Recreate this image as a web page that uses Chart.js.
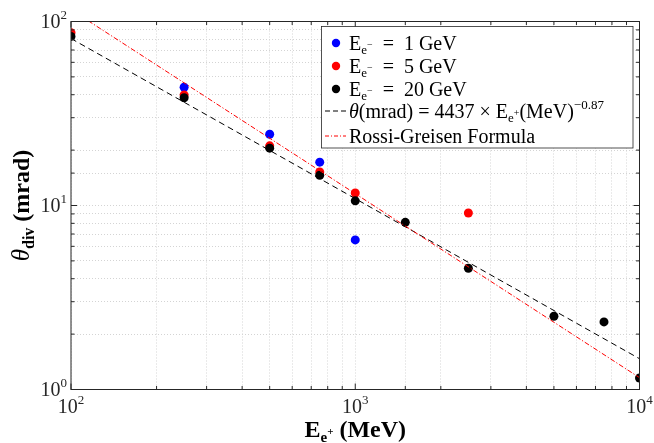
<!DOCTYPE html>
<html>
<head>
<meta charset="utf-8">
<script src="https://cdn.jsdelivr.net/npm/chart.js@4.4.0/dist/chart.umd.min.js"></script>
<style>
html, body { margin: 0; padding: 0; background: #fff; }
#wrap { width: 654px; height: 443px; }
</style>
</head>
<body>
<div id="wrap"><canvas id="divChart" width="654" height="443"></canvas></div>
<script>
// beam energies (MeV) and divergence angles (mrad)
const energy1GeV = [250, 500, 750, 1000];
const theta1GeV = [43.9, 24.4, 17.2, 6.5];
const energy5GeV = [100, 250, 500, 750, 1000, 2500];
const theta5GeV = [87, 39.9, 21.1, 15.2, 11.7, 9.1];
const energy20GeV = [100, 250, 500, 750, 1000, 1500, 2500, 5000, 7500, 10000];
const theta20GeV = [83, 38.5, 20.5, 14.6, 10.6, 8.1, 4.56, 2.5, 2.33, 1.155];

// fit line and Rossi-Greisen line (end points)
const fitEnergy = [100, 10000];
const fitTheta = [80.8, 1.47];
const rossiEnergy = [100, 10000];
const rossiTheta = [116, 1.16];

// labelled ticks (powers of ten)
const xTickValues = [100, 1000, 10000];
const xTickExps = ['2', '3', '4'];
const yTickValues = [1, 10, 100];
const yTickExps = ['0', '1', '2'];

const SERIF = '"Liberation Serif", "DejaVu Serif", serif';
const AXIS_COLOR = '#262626';

function toPoints(xs, ys) {
    return xs.map((x, i) => ({ x: x, y: ys[i] }));
}

function f(size, style) {
    return (style ? style + ' ' : '') + size + 'px ' + SERIF;
}

function richWidth(ctx, parts) {
    let w = 0;
    parts.forEach(p => { ctx.font = p.font; w += ctx.measureText(p.text).width; });
    return w;
}

function drawRich(ctx, parts, x, y, align) {
    const w = richWidth(ctx, parts);
    let cx = align === 'center' ? x - w / 2 : (align === 'right' ? x - w : x);
    ctx.textAlign = 'left';
    ctx.textBaseline = 'alphabetic';
    parts.forEach(p => {
        ctx.font = p.font;
        ctx.fillText(p.text, cx, y + (p.dy || 0));
        cx += ctx.measureText(p.text).width;
    });
}

// legend labels as rich text pieces
function eMinus(rest) {
    return [
        { text: 'E', font: f(20) },
        { text: 'e', font: f(13), dy: 4 },
        { text: '\u2212', font: f(10), dy: -2 },
        { text: rest, font: f(20) }
    ];
}
const legendItems = [
    { kind: 'dot', color: '#0000ff', parts: eMinus('  =  1 GeV') },
    { kind: 'dot', color: '#ff0000', parts: eMinus('  =  5 GeV') },
    { kind: 'dot', color: '#000000', parts: eMinus('  =  20 GeV') },
    { kind: 'line', color: '#000000', dash: [5, 3], parts: [
        { text: '\u03b8', font: f(20, 'italic') },
        { text: '(mrad) = 4437 \u00d7 E', font: f(20) },
        { text: 'e', font: f(13), dy: 4 },
        { text: '+', font: f(10), dy: -2 },
        { text: '(MeV)', font: f(20) },
        { text: '\u22120.87', font: f(13), dy: -9 }
    ] },
    { kind: 'line', color: '#ff0000', dash: [4, 2, 1, 2], parts: [
        { text: 'Rossi-Greisen Formula', font: f(20) }
    ] }
];
const legendRows = [43, 66, 89, 111, 136];

const matlabAxes = {
    id: 'matlabAxes',
    afterDraw(chart) {
        const ctx = chart.ctx;
        const a = chart.chartArea;
        const xs = chart.scales.x;
        const ys = chart.scales.y;
        ctx.save();

        // frame
        ctx.strokeStyle = AXIS_COLOR;
        ctx.lineWidth = 1;
        ctx.setLineDash([]);
        ctx.strokeRect(a.left, a.top, a.right - a.left, a.bottom - a.top);

        // inward tick marks on all four sides
        ctx.beginPath();
        xs.ticks.forEach(t => {
            const p = xs.getPixelForValue(t.value);
            const lg = Math.log10(t.value);
            const len = Math.abs(lg - Math.round(lg)) < 1e-6 ? 6 : 3.5;
            ctx.moveTo(p, a.bottom); ctx.lineTo(p, a.bottom - len);
            ctx.moveTo(p, a.top); ctx.lineTo(p, a.top + len);
        });
        ys.ticks.forEach(t => {
            const p = ys.getPixelForValue(t.value);
            const lg = Math.log10(t.value);
            const len = Math.abs(lg - Math.round(lg)) < 1e-6 ? 6 : 3.5;
            ctx.moveTo(a.left, p); ctx.lineTo(a.left + len, p);
            ctx.moveTo(a.right, p); ctx.lineTo(a.right - len, p);
        });
        ctx.stroke();

        // tick labels
        ctx.fillStyle = AXIS_COLOR;
        xTickValues.forEach((v, i) => {
            drawRich(ctx, [
                { text: '10', font: f(20) },
                { text: xTickExps[i], font: f(13), dy: -9 }
            ], xs.getPixelForValue(v), a.bottom + 23, 'center');
        });
        yTickValues.forEach((v, i) => {
            drawRich(ctx, [
                { text: '10', font: f(20) },
                { text: yTickExps[i], font: f(13), dy: -9 }
            ], a.left - 4, ys.getPixelForValue(v) + 6.5, 'right');
        });

        // axis titles
        ctx.fillStyle = '#000';
        drawRich(ctx, [
            { text: 'E', font: f(24, 'bold') },
            { text: 'e', font: f(15, 'bold'), dy: 5 },
            { text: '+', font: f(11, 'bold'), dy: -2 },
            { text: ' (MeV)', font: f(24, 'bold') }
        ], (a.left + a.right) / 2, 437, 'center');

        ctx.save();
        ctx.translate(29, (a.top + a.bottom) / 2);
        ctx.rotate(-Math.PI / 2);
        drawRich(ctx, [
            { text: '\u03b8', font: f(25, 'italic') },
            { text: 'div', font: f(16, 'bold'), dy: 5 },
            { text: ' (mrad)', font: f(24, 'bold') }
        ], 0, 0, 'center');
        ctx.restore();

        // legend box
        ctx.fillStyle = '#fff';
        ctx.fillRect(321.5, 26.5, 311.5, 121.5);
        ctx.strokeStyle = AXIS_COLOR;
        ctx.lineWidth = 0.8;
        ctx.strokeRect(321.5, 26.5, 311.5, 121.5);

        legendItems.forEach((item, i) => {
            const y = legendRows[i];
            if (item.kind === 'dot') {
                ctx.fillStyle = item.color;
                ctx.beginPath();
                ctx.arc(336, y, 4.2, 0, Math.PI * 2);
                ctx.fill();
            } else {
                ctx.strokeStyle = item.color;
                ctx.lineWidth = 1;
                ctx.setLineDash(item.dash);
                ctx.beginPath();
                ctx.moveTo(325, y);
                ctx.lineTo(346, y);
                ctx.stroke();
                ctx.setLineDash([]);
            }
            ctx.fillStyle = '#000';
            drawRich(ctx, item.parts, 349, y + 6.5, 'left');
        });

        ctx.restore();
    }
};

function scatterSet(label, xs, ys, color, order) {
    return {
        label: label,
        data: toPoints(xs, ys),
        backgroundColor: color,
        borderColor: color,
        pointRadius: 4.5,
        pointBorderWidth: 0,
        showLine: false,
        order: order
    };
}

const ctx = document.getElementById('divChart').getContext('2d');
new Chart(ctx, {
    type: 'scatter',
    data: {
        datasets: [
            scatterSet('E = 1 GeV', energy1GeV, theta1GeV, '#0000ff', 4),
            scatterSet('E = 5 GeV', energy5GeV, theta5GeV, '#ff0000', 3),
            scatterSet('E = 20 GeV', energy20GeV, theta20GeV, '#000000', 2),
            {
                label: 'fit',
                data: toPoints(fitEnergy, fitTheta),
                showLine: true,
                borderColor: '#000000',
                borderWidth: 1,
                borderDash: [6, 4],
                pointRadius: 0,
                order: 1
            },
            {
                label: 'Rossi-Greisen Formula',
                data: toPoints(rossiEnergy, rossiTheta),
                showLine: true,
                borderColor: '#ff0000',
                borderWidth: 1,
                borderDash: [5, 2, 1.2, 2],
                pointRadius: 0,
                clip: 0,
                order: 0
            }
        ]
    },
    options: {
        responsive: false,
        animation: false,
        devicePixelRatio: 1,
        layout: { padding: { top: 21.5, right: 14.5, bottom: 0, left: 0 } },
        plugins: {
            legend: { display: false },
            tooltip: { enabled: false }
        },
        events: [],
        scales: {
            x: {
                type: 'logarithmic',
                min: 100,
                max: 10000,
                ticks: { display: false },
                grid: { color: '#d4d4d4', lineWidth: 1, drawTicks: false },
                border: { display: false, dash: [1, 2] },
                afterFit(scale) { scale.height = 53.5; }
            },
            y: {
                type: 'logarithmic',
                min: 1,
                max: 100,
                ticks: { display: false },
                grid: { color: '#d4d4d4', lineWidth: 1, drawTicks: false },
                border: { display: false, dash: [1, 2] },
                afterFit(scale) { scale.width = 71; }
            }
        }
    },
    plugins: [matlabAxes]
});
</script>
</body>
</html>
